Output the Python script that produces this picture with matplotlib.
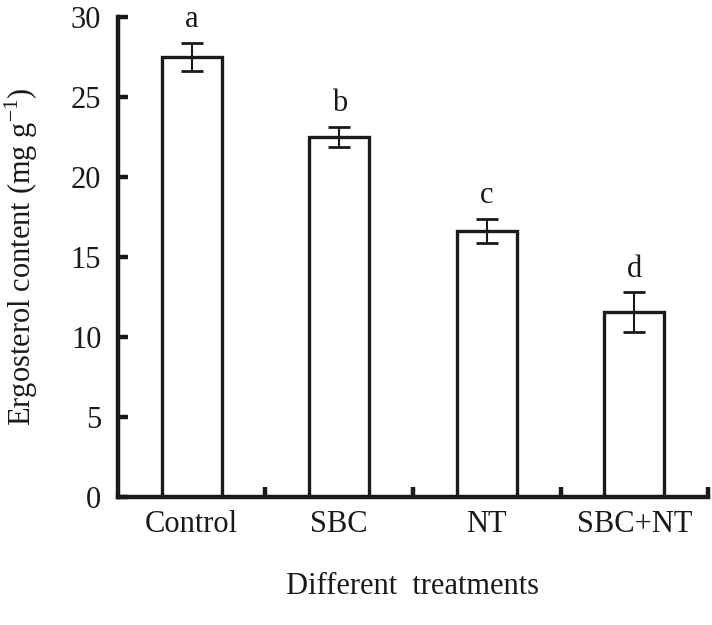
import numpy as np
import matplotlib
matplotlib.use('Agg')
import matplotlib.pyplot as plt

# data
treatments = ['Control', 'SBC', 'NT', 'SBC+NT']
ergosterol = [27.5, 22.5, 16.65, 11.55]
err = [0.9, 0.65, 0.75, 1.25]
letters = ['a', 'b', 'c', 'd']

plt.rcParams['font.family'] = ['Liberation Serif', 'DejaVu Serif']
plt.rcParams['mathtext.fontset'] = 'custom'
plt.rcParams['mathtext.rm'] = 'Liberation Serif'

fig = plt.figure(figsize=(7.12, 6.25), dpi=100)
ax = fig.add_axes([0.1657, 0.2048, 0.8287, 0.768])

x = np.arange(len(treatments))
ax.bar(x, ergosterol, width=0.405, color='white', edgecolor='#1a1a1a', linewidth=2.4, zorder=2)
ax.errorbar(x, ergosterol, yerr=err, fmt='none', ecolor='#1a1a1a', elinewidth=1.5,
            capsize=8, capthick=2, zorder=3)

for xi, v, e, l in zip(x, ergosterol, err, letters):
    ax.text(xi, v + e + 0.95, l, ha='center', va='baseline', fontsize=22, color='#1a1a1a')

ax.set_xlim(-0.5, 3.5)
ax.set_ylim(0, 30)
ax.set_yticks(np.arange(0, 31, 5))
ax.set_xticks(x)
ax.set_xticklabels(treatments)
ax.set_xticks(x + 0.5, minor=True)

for s in ['top', 'right']:
    ax.spines[s].set_visible(False)
for s in ['left', 'bottom']:
    ax.spines[s].set_linewidth(3.2)
    ax.spines[s].set_color('#1a1a1a')

ax.tick_params(axis='y', direction='in', length=7, width=3.2, labelsize=22, pad=12, colors='#1a1a1a')
ax.tick_params(axis='x', which='major', length=0, labelsize=22, pad=9, colors='#1a1a1a')
ax.tick_params(axis='x', which='minor', direction='in', length=7, width=3.2, color='#1a1a1a')

ax.set_ylabel('Ergosterol content (mg g$^{\\mathrm{-1}}$)', fontsize=22, labelpad=22, color='#1a1a1a')
ax.set_xlabel('Different  treatments', fontsize=22, labelpad=24, color='#1a1a1a')

fig.savefig('out.png', dpi=100)
